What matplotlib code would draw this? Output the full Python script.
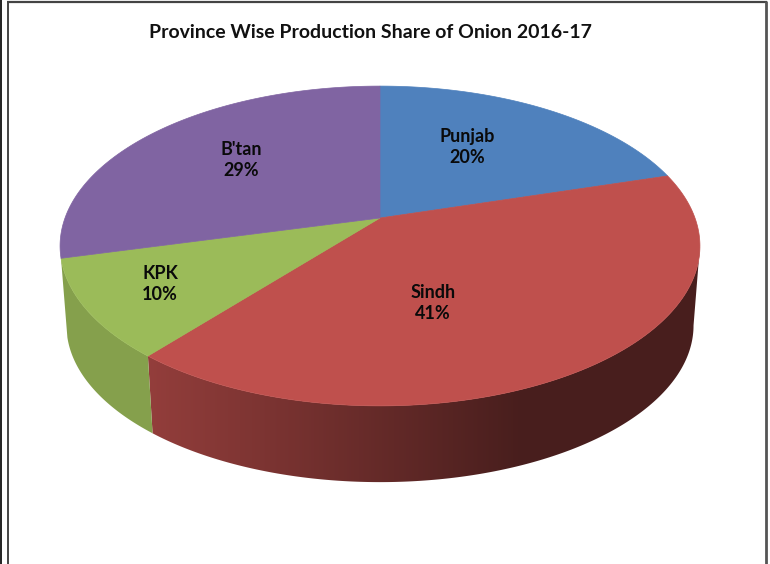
import numpy as np
import matplotlib
matplotlib.use("Agg")
import matplotlib.pyplot as plt
from matplotlib.patches import Polygon

title = "Province Wise Production Share of Onion 2016-17"
provinces = ["Punjab", "Sindh", "KPK", "B'tan"]
shares = [20.4, 40.6, 10, 29]
colors = ["#4f81bd", "#bf504d", "#9bbb59", "#8064a2"]

# layout of the tilted pie, in pixels of the picture
cx, cy = 380, 218
rx, ry = 315, 155
persp = 0.175
depth = 80
shrink = 0.98
label_xy = [(467, 147), (433, 303), (160, 284), (241, 160)]


def rim(a):
    # angle clockwise from the top -> point on the top face
    w = 1 + persp * np.cos(a)
    return rx * np.sin(a) / w, ry * np.cos(a) / w


fig = plt.figure(figsize=(7.7, 5.64), dpi=100)
ax = fig.add_axes([0, 0, 1, 1])

edges = np.cumsum([0] + shares) / sum(shares) * 2 * np.pi
right_most = np.arccos(-persp)

# side wall first, the top face covers the back of it
xs = np.arange(0, 771)
for i in range(len(shares)):
    mid = (edges[i] + edges[i + 1]) / 2
    if np.cos(mid) > 0:
        continue
    a = np.linspace(max(edges[i], right_most), edges[i + 1], 200)
    x, y = rim(a)
    wall = np.column_stack([
        np.r_[cx + x, (cx + shrink * x)[::-1]],
        np.r_[cy - y, (cy - shrink * y + depth)[::-1]],
    ])
    if i == 2:
        light = np.full(xs.shape, 0.86)
    else:
        light = np.interp(xs, [150, 520], [0.77, 0.38])
    base = np.array(matplotlib.colors.to_rgb(colors[i]))
    grad = (light[:, None] * base)[None, :, :]
    patch = Polygon(wall, closed=True, facecolor="none", edgecolor="none")
    ax.add_patch(patch)
    im = ax.imshow(grad, extent=(0, 770, 564, 0), aspect="auto", interpolation="bilinear")
    im.set_clip_path(patch)

for i in range(len(shares)):
    a = np.linspace(edges[i], edges[i + 1], 200)
    x, y = rim(a)
    pts = np.column_stack([np.r_[cx, cx + x], np.r_[cy, cy - y]])
    ax.add_patch(Polygon(pts, closed=True, facecolor=colors[i], edgecolor=colors[i], linewidth=0.5))

for i in range(len(shares)):
    ax.text(label_xy[i][0], label_xy[i][1], "%s\n%.0f%%" % (provinces[i], shares[i]),
            ha="center", va="center", fontsize=13, fontweight="bold",
            family="Lato", color="#0a0a0a", linespacing=1.25)

ax.text(370.5, 32, title, ha="center", va="center", fontsize=14, fontweight="bold",
        family="Lato", color="#111111")

# page frame
ax.plot([7.5, 7.5], [2, 564], color="#444444", lw=1.4, solid_capstyle="butt")
ax.plot([7, 767], [2, 2], color="#444444", lw=1.6, solid_capstyle="butt")
ax.plot([765.5, 765.5], [1, 564], color="#555555", lw=2, solid_capstyle="butt")
ax.plot([0.7, 0.7], [0, 564], color="#222222", lw=1.4, solid_capstyle="butt")

ax.set_xlim(0, 770)
ax.set_ylim(564, 0)
ax.axis("off")

fig.savefig("out.png", dpi=100)
